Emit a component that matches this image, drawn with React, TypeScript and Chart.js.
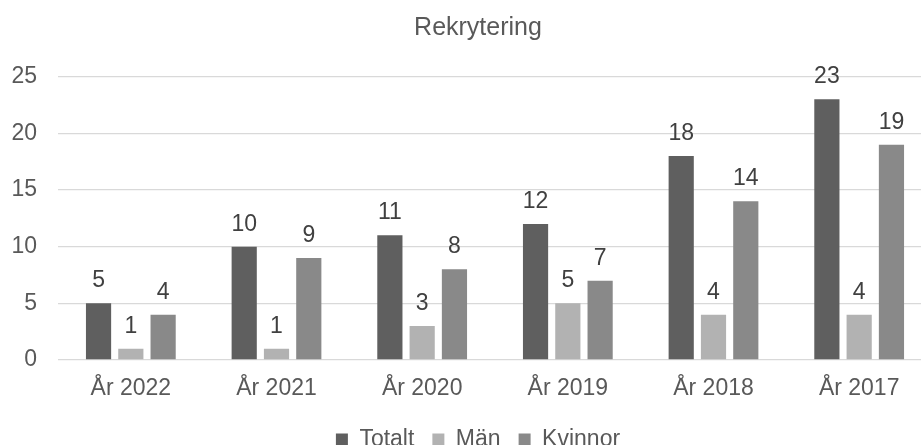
import React, { useEffect, useRef } from "react";
import { Chart, registerables } from "chart.js";

Chart.register(...registerables);

const categories = ["År 2022", "År 2021", "År 2020", "År 2019", "År 2018", "År 2017"];
const totalt = [5, 10, 11, 12, 18, 23];
const man = [1, 1, 3, 5, 4, 4];
const kvinnor = [4, 9, 8, 7, 14, 19];
const seriesNames = ["Totalt", "Män", "Kvinnor"];
const seriesColors = ["#5f5f5f", "#b2b2b2", "#898989"];
const chartTitle = "Rekrytering";

const FONT = "'Liberation Sans', Arial, sans-serif";

const dataLabelPlugin = {
  id: "dataLabels",
  afterDatasetsDraw(chart: any) {
    const ctx = chart.ctx;
    ctx.save();
    ctx.font = `23px ${FONT}`;
    ctx.fillStyle = "#404040";
    ctx.textAlign = "center";
    ctx.textBaseline = "alphabetic";
    chart.data.datasets.forEach((ds: any, i: number) => {
      const meta = chart.getDatasetMeta(i);
      meta.data.forEach((el: any, j: number) => {
        ctx.fillText(String(ds.data[j]), el.x, el.y - 16);
      });
    });
    ctx.restore();
  },
};

export default function App() {
  const ref = useRef<HTMLCanvasElement>(null);
  useEffect(() => {
    document.body.style.overflow = "hidden";
    document.documentElement.style.overflow = "hidden";
    const data = [totalt, man, kvinnor];
    const chart = new Chart(ref.current!, {
      type: "bar",
      data: {
        labels: categories,
        datasets: seriesNames.map((n, i) => ({
          label: n,
          data: data[i],
          backgroundColor: seriesColors[i],
          borderWidth: 0,
          categoryPercentage: 0.665,
          barPercentage: 0.78,
        })),
      },
      options: {
        animation: false,
        responsive: false,
        devicePixelRatio: 1,
        layout: { padding: 0 },
        plugins: {
          title: {
            display: true,
            text: chartTitle,
            color: "#595959",
            font: { family: FONT, size: 25, weight: "normal" },
            padding: { top: 13, bottom: 33.7 },
          },
          legend: {
            position: "bottom",
            labels: {
              color: "#595959",
              font: { family: FONT, size: 23 },
              boxWidth: 12,
              boxHeight: 12,
              padding: 18,
            },
          },
          tooltip: { enabled: false },
        },
        scales: {
          x: {
            grid: { display: false, drawTicks: false },
            border: { display: false },
            ticks: {
              color: "#595959",
              font: { family: FONT, size: 23 },
              padding: 15,
              maxRotation: 0,
            },
            afterFit(scale: any) {
              scale.height = 50;
            },
          },
          y: {
            min: 0,
            max: 25,
            grid: { color: "#d9d9d9", lineWidth: 1.3, drawTicks: false },
            border: { display: false },
            ticks: {
              stepSize: 5,
              color: "#595959",
              font: { family: FONT, size: 23 },
              padding: 21,
            },
            afterFit(scale: any) {
              scale.width = 58;
            },
          },
          yRight: {
            position: "right",
            display: true,
            min: 0,
            max: 25,
            grid: { display: false, drawTicks: false },
            border: { display: false },
            ticks: { display: false },
            afterFit(scale: any) {
              scale.width = 24;
            },
          },
        },
      },
      plugins: [dataLabelPlugin],
    });
    return () => chart.destroy();
  }, []);
  return (
    <div style={{ position: "absolute", left: 0, top: 0, width: 956, height: 461 }}>
      <canvas ref={ref} width={956} height={461} />
    </div>
  );
}
